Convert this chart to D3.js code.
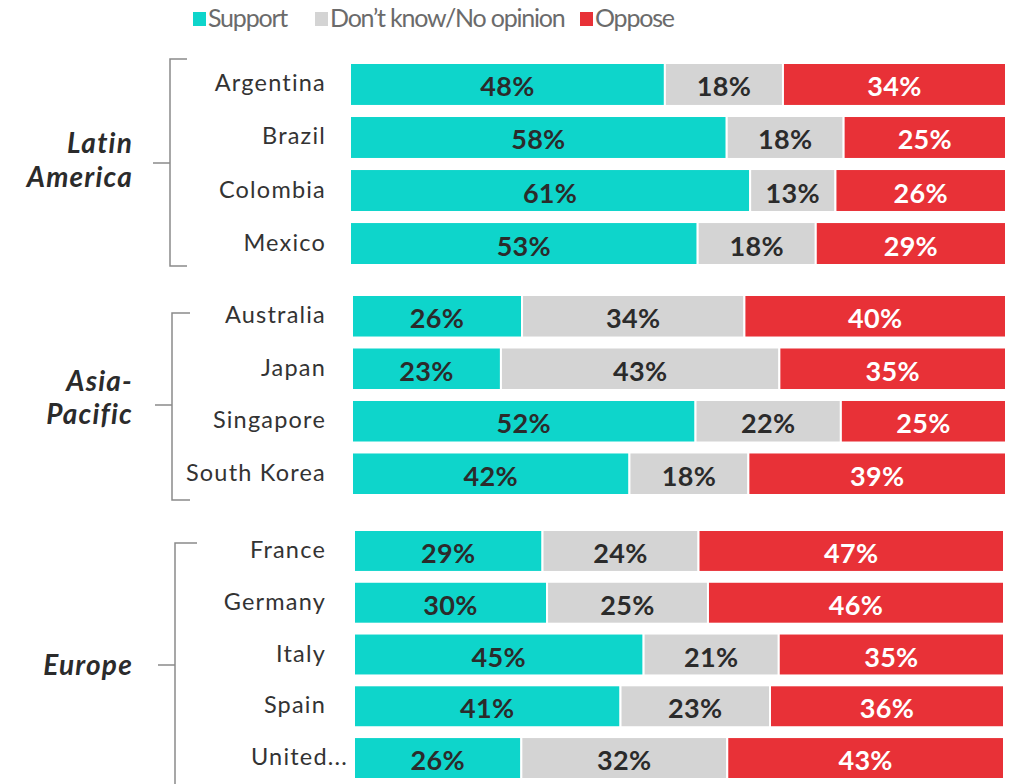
<!DOCTYPE html>
<html><head><meta charset="utf-8">
<script src="https://cdn.jsdelivr.net/npm/d3@7"></script>
<style>
html,body{margin:0;padding:0;background:#fff;}
svg{display:block;font-family:Lato, "Noto Sans", sans-serif;}
</style></head>
<body><svg id="chart" width="1013" height="784"></svg>
<script>
// ---- data ----
const seriesNames = ["Support", "Don\u2019t know/No opinion", "Oppose"];
const seriesColors = ["#0ed5cb", "#d4d4d4", "#e83137"];
const labelColors = ["#2b2b2b", "#2b2b2b", "#ffffff"];

const groupLabelLines = [["Latin", "America"], ["Asia-", "Pacific"], ["Europe"]];

const latamCountries = ["Argentina", "Brazil", "Colombia", "Mexico"];
const latamSupport = [48, 58, 61, 53];
const latamDontKnow = [18, 18, 13, 18];
const latamOppose = [34, 25, 26, 29];

const apacCountries = ["Australia", "Japan", "Singapore", "South Korea"];
const apacSupport = [26, 23, 52, 42];
const apacDontKnow = [34, 43, 22, 18];
const apacOppose = [40, 35, 25, 39];

const europeCountries = ["France", "Germany", "Italy", "Spain", "United..."];
const europeSupport = [29, 30, 45, 41, 26];
const europeDontKnow = [24, 25, 21, 23, 32];
const europeOppose = [47, 46, 35, 36, 43];

// ---- layout ----
const panels = [
  {countries: latamCountries, vals: [latamSupport, latamDontKnow, latamOppose],
   x0: 350, x1: 1006, y0: 63, y1: 265, bx: 170, bTop: 59, bBot: 266, tickR: 187, tickY: 163, gBase: [153, 187]},
  {countries: apacCountries, vals: [apacSupport, apacDontKnow, apacOppose],
   x0: 352, x1: 1006, y0: 295, y1: 495, bx: 172, bTop: 313, bBot: 500, tickR: 190, tickY: 405, gBase: [391, 424]},
  {countries: europeCountries, vals: [europeSupport, europeDontKnow, europeOppose],
   x0: 354, x1: 1004, y0: 530, y1: 779, bx: 175, bTop: 543, bBot: 800, tickR: 197, tickY: 665, gBase: [675]}
];

const svg = d3.select("#chart");

// legend
const legendX = [193, 315, 580];
const legend = svg.append("g");
seriesNames.forEach((s, i) => {
  legend.append("rect").attr("x", legendX[i]).attr("y", 12).attr("width", 13).attr("height", 14)
    .attr("fill", seriesColors[i]);
  legend.append("text").attr("x", legendX[i] + 15).attr("y", 27)
    .attr("font-size", 25).attr("fill", "#6b6b6b").attr("font-weight", 400)
    .attr("letter-spacing", -1.2)
    .text(s);
});

panels.forEach((p, gi) => {
  const g = svg.append("g");
  const y = d3.scaleBand().domain(p.countries).range([p.y0, p.y1]).paddingInner(0.19).paddingOuter(0);

  // bracket
  g.append("path")
    .attr("d", `M${p.tickR},${p.bTop}H${p.bx}V${p.bBot}H${p.tickR}`)
    .attr("fill", "none").attr("stroke", "#8a8a8a").attr("stroke-width", 1.5);
  g.append("line").attr("x1", p.bx - 17).attr("x2", p.bx).attr("y1", p.tickY).attr("y2", p.tickY)
    .attr("stroke", "#8a8a8a").attr("stroke-width", 1.5);

  // group label
  const lines = groupLabelLines[gi];
  const gl = g.append("text").attr("text-anchor", "end").attr("font-size", 28)
    .attr("font-weight", 700).attr("font-style", "italic").attr("fill", "#2b2b2b")
    .attr("letter-spacing", 1.2);
  lines.forEach((t, li) => {
    gl.append("tspan").attr("x", 133).attr("y", p.gBase[li]).text(t);
  });

  p.countries.forEach((c, ri) => {
    const vals = p.vals.map(a => a[ri]);
    const total = d3.sum(vals);
    const x = d3.scaleLinear().domain([0, total]).range([p.x0, p.x1]);
    let cum = 0;
    const by = y(c), bh = y.bandwidth();
    vals.forEach((v, si) => {
      const xa = x(cum), xb = x(cum + v);
      g.append("rect").attr("x", xa).attr("y", by).attr("width", xb - xa).attr("height", bh)
        .attr("fill", seriesColors[si]).attr("stroke", "#fff").attr("stroke-width", 2);
      g.append("text").attr("x", (xa + xb) / 2).attr("y", by + bh / 2 + 12)
        .attr("text-anchor", "middle").attr("font-size", 27).attr("font-weight", 700)
        .attr("letter-spacing", 0.3)
        .attr("fill", labelColors[si]).text(v + "%");
      cum += v;
    });
    g.append("text").attr("x", c === "United..." ? 348 : 326).attr("y", by + bh / 2 + 7)
      .attr("text-anchor", "end").attr("font-size", 23.5).attr("fill", "#333")
      .attr("letter-spacing", 1.2).text(c);
  });
});
</script></body></html>
